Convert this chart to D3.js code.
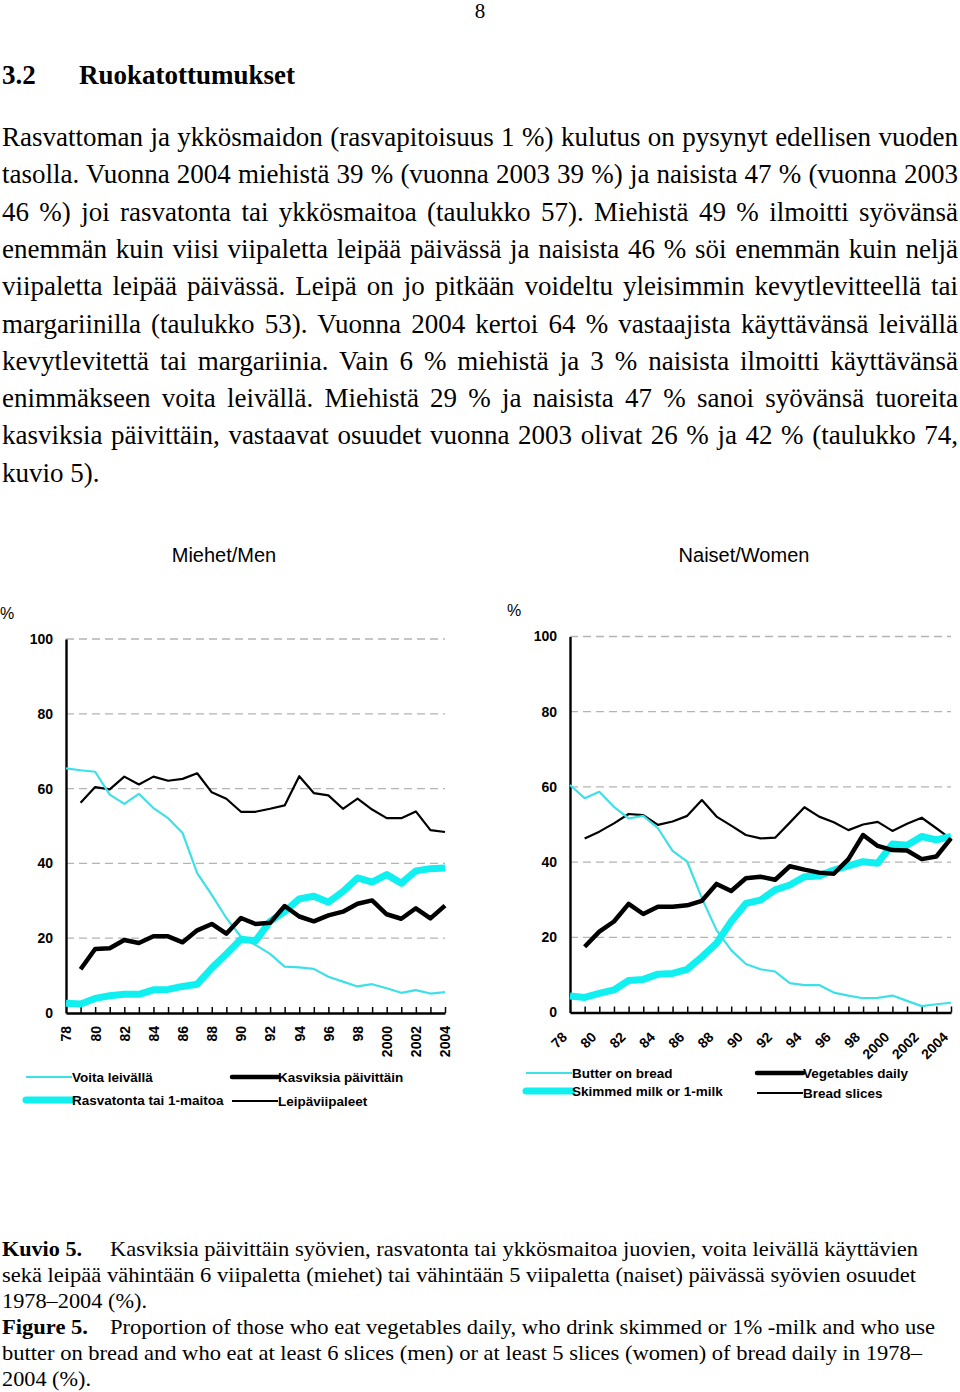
<!DOCTYPE html>
<html>
<head>
<meta charset="utf-8">
<script src="https://d3js.org/d3.v7.min.js"></script>
<style>
  body { margin: 0; background: #fff; }
  svg { display: block; }
</style>
</head>
<body>
<script>
// ---- data ----
var years = [1978,1979,1980,1981,1982,1983,1984,1985,1986,1987,1988,1989,1990,1991,
             1992,1993,1994,1995,1996,1997,1998,1999,2000,2001,2002,2003,2004];
var yearLabels = ["78","80","82","84","86","88","90","92","94","96","98","2000","2002","2004"];
var yTicks = [0,20,40,60,80,100];

var menButter  = [65.4,64.9,64.5,58.4,55.9,58.6,54.8,52.1,48.1,37.4,31.6,25.4,20.4,18.2,15.8,12.4,12.2,11.8,9.7,8.4,7.1,7.7,6.6,5.4,6.1,5.2,5.6];
var menSkimmed = [2.6,2.4,3.9,4.6,5.0,5.0,6.2,6.3,7.1,7.7,12.0,15.8,19.7,19.3,24.5,27.1,30.5,31.2,29.6,32.5,36.1,35.0,37.0,34.7,38.0,38.6,38.8];
var menVeg     = [null,11.7,17.1,17.3,19.5,18.7,20.5,20.5,18.9,22.1,23.8,21.2,25.4,23.8,24.1,28.6,25.8,24.5,26.1,27.1,29.2,30.1,26.4,25.2,28.0,25.3,28.7];
var menBread   = [null,56.2,60.4,59.8,63.2,61.1,63.2,62.1,62.6,64.1,59.0,57.3,53.8,53.8,54.6,55.5,63.3,58.8,58.2,54.6,57.3,54.4,52.1,52.1,53.9,48.9,48.4];

var womenButter  = [60.5,57.0,58.7,54.7,51.6,52.3,49.0,43.0,40.1,30.4,21.9,16.6,12.9,11.5,10.9,7.8,7.3,7.3,5.3,4.5,3.8,3.9,4.5,3.1,1.7,2.2,2.6];
var womenSkimmed = [4.4,4.0,5.1,6.0,8.5,8.8,10.2,10.4,11.5,14.8,18.4,24.2,29.0,29.9,32.6,33.9,36.1,36.3,37.9,39.0,40.1,39.7,44.8,44.5,46.8,45.9,46.8];
var womenVeg     = [null,17.5,21.5,24.2,28.9,26.2,28.1,28.1,28.5,29.7,34.2,32.3,35.7,36.1,35.3,38.9,38.0,37.2,36.9,40.8,47.2,44.3,43.2,43.1,40.8,41.5,46.3];
var womenBread   = [null,46.3,48.1,50.3,52.8,52.5,49.9,50.8,52.3,56.5,52.1,49.7,47.2,46.3,46.5,50.5,54.6,52.1,50.6,48.5,50.0,50.7,48.3,50.2,51.8,49.0,46.1];

var menLegend   = ["Voita leivällä","Rasvatonta tai 1-maitoa","Kasviksia  päivittäin","Leipäviipaleet"];
var womenLegend = ["Butter on bread","Skimmed milk or 1-milk","Vegetables daily","Bread slices"];

var bodyLines = [
  "Rasvattoman ja ykkösmaidon (rasvapitoisuus 1 %) kulutus on pysynyt edellisen vuoden",
  "tasolla. Vuonna 2004 miehistä 39 % (vuonna 2003 39 %) ja naisista 47 % (vuonna 2003",
  "46 %) joi rasvatonta tai ykkösmaitoa (taulukko 57). Miehistä 49 % ilmoitti syövänsä",
  "enemmän kuin viisi viipaletta leipää päivässä ja naisista 46 % söi enemmän kuin neljä",
  "viipaletta leipää päivässä. Leipä on jo pitkään voideltu yleisimmin kevytlevitteellä tai",
  "margariinilla (taulukko 53). Vuonna 2004 kertoi 64 % vastaajista käyttävänsä leivällä",
  "kevytlevitettä tai margariinia. Vain 6 % miehistä ja 3 % naisista ilmoitti käyttävänsä",
  "enimmäkseen voita leivällä. Miehistä 29 % ja naisista 47 % sanoi syövänsä tuoreita",
  "kasviksia päivittäin, vastaavat osuudet vuonna 2003 olivat 26 % ja 42 % (taulukko 74,",
  "kuvio 5)."
];

var w = 960, h = 1392;
var svg = d3.select("body").append("svg").attr("width", w).attr("height", h);
svg.append("rect").attr("width", w).attr("height", h).attr("fill", "#fff");

var serif = "'Liberation Serif','Times New Roman',serif";
var sans = "'Liberation Sans',Arial,Helvetica,sans-serif";

// page number + heading
svg.append("text").attr("x", 480).attr("y", 18).attr("text-anchor", "middle")
   .style("font-family", serif).style("font-size", "21px").text("8");
svg.append("text").attr("x", 2).attr("y", 84).style("font-family", serif)
   .style("font-size", "27px").style("font-weight", "bold").text("3.2");
svg.append("text").attr("x", 79).attr("y", 84).style("font-family", serif)
   .style("font-size", "27px").style("font-weight", "bold").text("Ruokatottumukset");

// body paragraph, justified by widening the word gaps
bodyLines.forEach(function(line, i){
  var t = svg.append("text").attr("x", 2).attr("y", 146 + i*37.3)
     .style("font-family", serif).style("font-size", "27px").text(line);
  if(i < bodyLines.length-1){
    var natural = t.node().getComputedTextLength();
    var gaps = line.split(" ").length - 1;
    var extra = (956 - natural) / gaps;
    if(extra >= 0) t.style("word-spacing", extra + "px");
    else t.attr("textLength", 956).attr("lengthAdjust", "spacingAndGlyphs");
  }
});

// ---- panels ----
function panel(o){
  var x = d3.scaleLinear().domain([1978, 2004]).range([o.x0, o.x1]);
  var y = d3.scaleLinear().domain([0, 100]).range([o.y0, o.y100]);
  var g = svg.append("g");

  g.append("text").attr("x", o.titleX).attr("y", 562).attr("text-anchor", "middle")
   .style("font-family", sans).style("font-size", "20px").text(o.title);
  g.append("text").attr("x", o.pctX).attr("y", o.pctY)
   .style("font-family", sans).style("font-size", "16px").text("%");

  // gridlines
  g.selectAll(".grid").data(yTicks.filter(function(d){return d>0;})).enter()
   .append("line").attr("x1", o.x0).attr("x2", o.x1)
   .attr("y1", function(d){return y(d);}).attr("y2", function(d){return y(d);})
   .attr("stroke", "#b4b4b4").attr("stroke-width", 1.3).attr("stroke-dasharray", "8,5");

  // y axis
  var ya = g.append("g").attr("transform", "translate(" + o.x0 + ",0)")
    .call(d3.axisLeft(y).tickValues(yTicks).tickSize(0).tickPadding(13));
  ya.select(".domain").attr("stroke", "#000").attr("stroke-width", 2.4);
  ya.selectAll("text").style("font-family", sans).style("font-size", "14px")
    .style("font-weight", "bold").attr("fill", "#000");

  // x axis with inward ticks
  var xa = g.append("g").attr("transform", "translate(0," + o.y0 + ")")
    .call(d3.axisBottom(x).tickValues(years.slice(1)).tickSizeInner(-6).tickSizeOuter(0).tickFormat(""));
  xa.select(".domain").attr("stroke", "#000").attr("stroke-width", 2.4);
  xa.selectAll(".tick line").attr("stroke", "#000").attr("stroke-width", 1.5);

  // year labels
  var lx = g.append("g").attr("transform", "translate(0," + o.y0 + ")")
    .call(d3.axisBottom(x).tickValues(years.filter(function(d){return d%2===0;}))
      .tickSize(0).tickFormat(function(d, i){return yearLabels[i];}));
  lx.select(".domain").remove();
  lx.selectAll("text")
    .style("font-family", sans).style("font-size", "14px").style("font-weight", "bold")
    .attr("fill", "#000").attr("text-anchor", "end").attr("y", 0).attr("dy", "0.35em")
    .attr("transform", o.rot === 90 ? "translate(0,13) rotate(-90)" : "translate(-6,22) rotate(-45)");

  var line = d3.line().defined(function(d){return d != null;})
    .x(function(d, i){return x(years[i]);}).y(function(d){return y(d);});

  var series = [
    {v: o.bread, c: "#000", sw: 2.2},
    {v: o.butter, c: "#3ee0e8", sw: 2.2},
    {v: o.skimmed, c: "#10f0f0", sw: 7},
    {v: o.veg, c: "#000", sw: 4.5}
  ];
  series.forEach(function(s){
    g.append("path").attr("d", line(s.v)).attr("fill", "none")
     .attr("stroke", s.c).attr("stroke-width", s.sw).attr("stroke-linejoin", "round");
  });

  // legend
  var leg = [
    {c: "#3ee0e8", sw: 2.2, lx: o.legX1, ly: o.legY1},
    {c: "#10f0f0", sw: 7,   lx: o.legX1, ly: o.legY2},
    {c: "#000",    sw: 4.5, lx: o.legX2, ly: o.legY1},
    {c: "#000",    sw: 2.2, lx: o.legX2, ly: o.legY2b}
  ];
  leg.forEach(function(l, i){
    g.append("line").attr("x1", l.lx - 46).attr("x2", l.lx).attr("y1", l.ly).attr("y2", l.ly)
     .attr("stroke", l.c).attr("stroke-width", l.sw).attr("stroke-linecap", l.sw > 4 ? "round" : "butt");
    g.append("text").attr("x", l.lx).attr("y", l.ly + 5)
     .style("font-family", sans).style("font-size", "13.5px").style("font-weight", "bold")
     .text(o.legend[i]);
  });
}

panel({x0: 66, x1: 445, y0: 1013, y100: 639, title: "Miehet/Men", titleX: 224,
       pctX: 0, pctY: 619, rot: 90,
       butter: menButter, skimmed: menSkimmed, veg: menVeg, bread: menBread,
       legend: menLegend, legX1: 72, legX2: 278, legY1: 1077, legY2: 1100, legY2b: 1101});
panel({x0: 570, x1: 951, y0: 1012.5, y100: 636.5, title: "Naiset/Women", titleX: 744,
       pctX: 507, pctY: 616, rot: 45,
       butter: womenButter, skimmed: womenSkimmed, veg: womenVeg, bread: womenBread,
       legend: womenLegend, legX1: 572, legX2: 803, legY1: 1073, legY2: 1091, legY2b: 1093});

// caption
var cap = [
  {b: "Kuvio 5.", bl: 80, t: "Kasviksia päivittäin syövien, rasvatonta tai ykkösmaitoa juovien, voita leivällä käyttävien", x: 110, len: 808},
  {t: "sekä leipää vähintään 6 viipaletta (miehet) tai vähintään 5 viipaletta (naiset) päivässä syövien osuudet", x: 2, len: 914},
  {t: "1978–2004 (%).", x: 2, len: 145},
  {b: "Figure 5.", bl: 86, t: "Proportion of those who eat vegetables daily, who drink skimmed or 1% -milk and who use", x: 110, len: 825},
  {t: "butter on bread and who eat at least 6 slices (men) or at least 5 slices (women) of bread daily in 1978–", x: 2, len: 920},
  {t: "2004 (%).", x: 2, len: 89}
];
cap.forEach(function(c, i){
  var yy = 1256 + i*26;
  if(c.b) svg.append("text").attr("x", 2).attr("y", yy).style("font-family", serif)
            .style("font-size", "21.5px").style("font-weight", "bold")
            .attr("textLength", c.bl).attr("lengthAdjust", "spacingAndGlyphs").text(c.b);
  svg.append("text").attr("x", c.x).attr("y", yy).style("font-family", serif)
     .style("font-size", "21.5px").attr("textLength", c.len).attr("lengthAdjust", "spacingAndGlyphs")
     .text(c.t);
});
</script>
</body>
</html>
